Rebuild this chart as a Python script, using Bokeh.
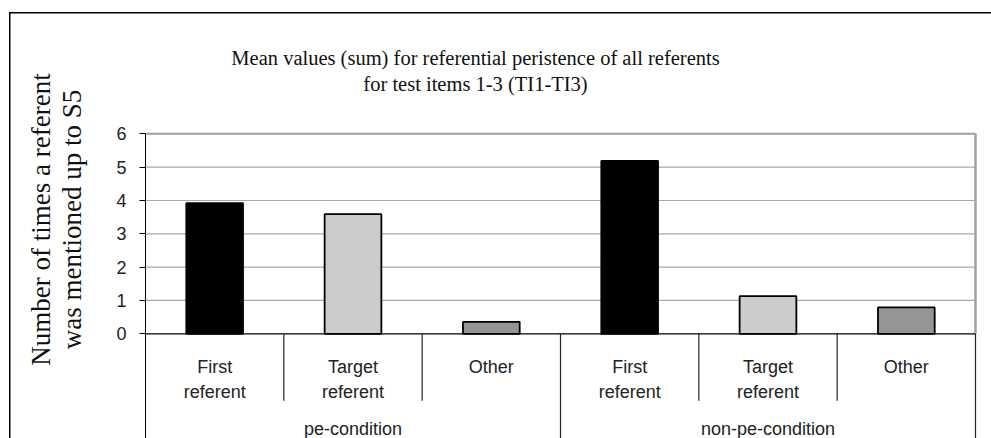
from bokeh.plotting import figure
from bokeh.models import Range1d, FixedTicker
from bokeh.core.properties import value
from bokeh.embed import file_html
from bokeh.resources import INLINE

# ---------------- data ----------------
groups = ["pe-condition", "non-pe-condition"]
categories = ["First\nreferent", "Target\nreferent", "Other"]
pe_values = [3.92, 3.59, 0.36]
non_pe_values = [5.19, 1.13, 0.79]
bar_colors = ["#000000", "#cccccc", "#959595"]
y_ticks = [0, 1, 2, 3, 4, 5, 6]
title_lines = ["Mean values (sum) for referential peristence of all referents",
               "for test items 1-3 (TI1-TI3)"]
y_label_lines = ["Number of times a referent", "was mentioned up to S5"]

# ---------------- layout ----------------
W, H = 991, 438
LEFT = 145                 # canvas px of the value axis
PX_X = 830 / 6             # px per category
ZERO = 333.3               # canvas px of value 0
PX_Y = 33.33               # px per unit

def cy(px):                # canvas y px -> data y
    return (ZERO - px) / PX_Y

def cx(px):
    return (px - LEFT) / PX_X

n_groups = len(groups)
n_cat = len(categories)
n_all = n_groups * n_cat
y_max = y_ticks[-1]

p = figure(width=W, height=H, output_backend="svg", toolbar_location=None,
           x_range=Range1d(0, cx(W)), y_range=Range1d(cy(H), cy(0)),
           x_axis_type=None, min_border_left=LEFT, min_border_right=0,
           min_border_top=0, min_border_bottom=0)
p.outline_line_color = None
p.xgrid.visible = False
p.ygrid.visible = False
p.border_fill_color = None
p.background_fill_color = None
# outer frame of the chart object (its left and top edges are visible)
p.styles = {
    "background-color": "white",
    "background-image": "linear-gradient(#000, #000), linear-gradient(#000, #000)",
    "background-size": "1.5px 100%, 100% 1.5px",
    "background-position": "9px 12px, 9px 12px",
    "background-repeat": "no-repeat",
}

# value axis
ax = p.yaxis[0]
ax.ticker = FixedTicker(ticks=y_ticks)
ax.bounds = (cy(H), y_max)
ax.major_tick_out = 6
ax.major_tick_in = 0
ax.minor_tick_out = 0
ax.minor_tick_in = 0
ax.axis_line_color = "black"
ax.major_tick_line_color = "black"
ax.major_label_text_font = "Liberation Sans"
ax.major_label_text_font_size = "18px"
ax.major_label_text_color = "#222222"
ax.major_label_standoff = 13
ax.axis_label = "\n".join(y_label_lines)
ax.axis_label_text_font = "Liberation Serif"
ax.axis_label_text_font_size = "27px"
ax.axis_label_text_font_style = "normal"
ax.axis_label_text_color = "#111111"
ax.axis_label_text_line_height = 1.06
ax.axis_label_standoff = 26

# grid lines + plot frame
p.segment(x0=0, x1=n_all, y0=y_ticks[1:-1], y1=y_ticks[1:-1],
          line_color="#a8a8a8", line_width=1.2)
p.segment(x0=[0], x1=[n_all], y0=[y_max], y1=[y_max], line_color="#a0a0a0", line_width=2)
p.segment(x0=[n_all], x1=[n_all], y0=[0], y1=[y_max], line_color="#a0a0a0", line_width=2.5)

# bars
xs, tops, cols = [], [], []
for g, vals in enumerate([pe_values, non_pe_values]):
    for i, v in enumerate(vals):
        xs.append(g * n_cat + i + 0.5)
        tops.append(v)
        cols.append(bar_colors[i])
p.vbar(x=xs, top=tops, bottom=0, width=0.41, fill_color=cols,
       line_color="black", line_width=1.8)

# baseline
p.segment(x0=[0], x1=[n_all], y0=[0], y1=[0], line_color="black", line_width=1.2)

# category separators
inner = [k for k in range(1, n_all) if k % n_cat != 0]
outer = [k for k in range(0, n_all + 1) if k % n_cat == 0]
p.segment(x0=inner, x1=inner, y0=0, y1=cy(ZERO + 67), line_color="#222222", line_width=1.2)
p.segment(x0=outer[1:], x1=outer[1:], y0=0, y1=cy(H), line_color="#222222", line_width=1.2)

# category labels
l1, l2, lx = [], [], []
for g in range(n_groups):
    for i, c in enumerate(categories):
        parts = c.split("\n")
        l1.append(parts[0])
        l2.append(parts[1] if len(parts) > 1 else "")
        lx.append(g * n_cat + i + 0.5)
lab = dict(text_font=value("Liberation Sans"), text_font_size="18px",
           text_align="center", text_baseline="alphabetic", text_color="#222222")
p.text(x=lx, y=[cy(ZERO + 33.5)] * len(lx), text=l1, **lab)
p.text(x=lx, y=[cy(ZERO + 58.5)] * len(lx), text=l2, **lab)
p.text(x=[g * n_cat + n_cat / 2 for g in range(n_groups)], y=[cy(ZERO + 95.5)] * n_groups,
       text=groups, **lab)

# chart title
tit = dict(text_font=value("Liberation Serif"), text_font_size="20.5px",
           text_align="center", text_baseline="alphabetic", text_color="#111111")
p.text(x=[cx(475)] * 2, y=[cy(57), cy(83)], text=title_lines, **tit)

open("out.html", "w").write(file_html(p, INLINE))
